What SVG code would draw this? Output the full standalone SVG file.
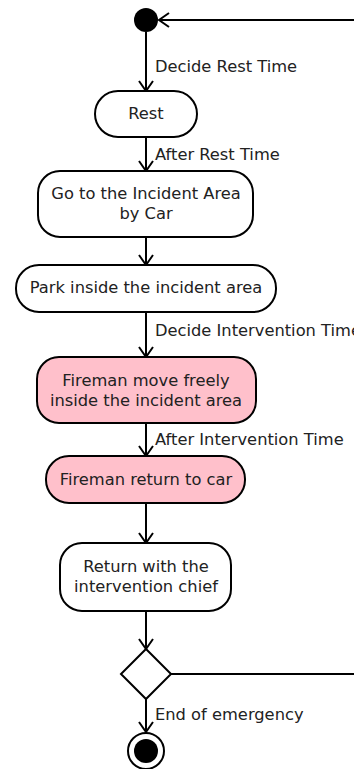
<svg xmlns="http://www.w3.org/2000/svg" width="354" height="769" viewBox="0 0 354 769">
<style>
.node{fill:#fff;stroke:#000;stroke-width:2}
.pink{fill:#FFC0CB}
.edge{fill:none;stroke:#000;stroke-width:2;marker-end:url(#arr)}
text{font-family:"DejaVu Sans",sans-serif;font-size:16.3px;fill:#222}
.c{text-anchor:middle}
</style>
<defs>
<marker id="arr" viewBox="-12 -9 14 18" refX="0" refY="0" markerWidth="14" markerHeight="18" orient="auto" markerUnits="userSpaceOnUse">
<path d="M-10,-7 L0,0 L-10,7" fill="none" stroke="#000" stroke-width="2"/>
</marker>
</defs>
<g id="connectors">
<path class="edge" d="M146,32 V91"/>
<path class="edge" d="M146,137 V171"/>
<path class="edge" d="M146,237 V265"/>
<path class="edge" d="M146,312 V357"/>
<path class="edge" d="M146,423 V456"/>
<path class="edge" d="M146,503 V543"/>
<path class="edge" d="M146,611 V649"/>
<path class="edge" d="M146,699 V732"/>
<path class="edge" d="M171,674 H360 V20 H159"/>
<text x="155" y="72">Decide Rest Time</text>
<text x="155" y="160">After Rest Time</text>
<text x="155" y="336">Decide Intervention Time</text>
<text x="155" y="445">After Intervention Time</text>
<text x="155" y="720">End of emergency</text>
</g>
<g id="start"><circle cx="146" cy="20" r="12" fill="#000"/></g>
<g id="rest"><rect class="node" x="95" y="91" width="102" height="46" rx="23"/><text class="c" x="146" y="119">Rest</text></g>
<g id="goto"><rect class="node" x="38" y="171" width="215" height="66" rx="22"/><text class="c" x="146" y="199">Go to the Incident Area</text><text class="c" x="146" y="219">by Car</text></g>
<g id="park"><rect class="node" x="16" y="265" width="260" height="47" rx="23"/><text class="c" x="146" y="293">Park inside the incident area</text></g>
<g id="move"><rect class="node pink" x="37" y="357" width="219" height="66" rx="22"/><text class="c" x="146" y="386">Fireman move freely</text><text class="c" x="146" y="406">inside the incident area</text></g>
<g id="returncar"><rect class="node pink" x="46" y="456" width="199" height="47" rx="23"/><text class="c" x="146" y="485">Fireman return to car</text></g>
<g id="returnchief"><rect class="node" x="60" y="543" width="171" height="68" rx="22"/><text class="c" x="146" y="572">Return with the</text><text class="c" x="146" y="592">intervention chief</text></g>
<g id="decision"><path class="node" d="M146,649 L171,674 L146,699 L121,674 Z"/></g>
<g id="end"><circle cx="146" cy="751" r="18" fill="#fff" stroke="#000" stroke-width="2"/><circle cx="146" cy="751" r="12" fill="#000"/></g>
</svg>
